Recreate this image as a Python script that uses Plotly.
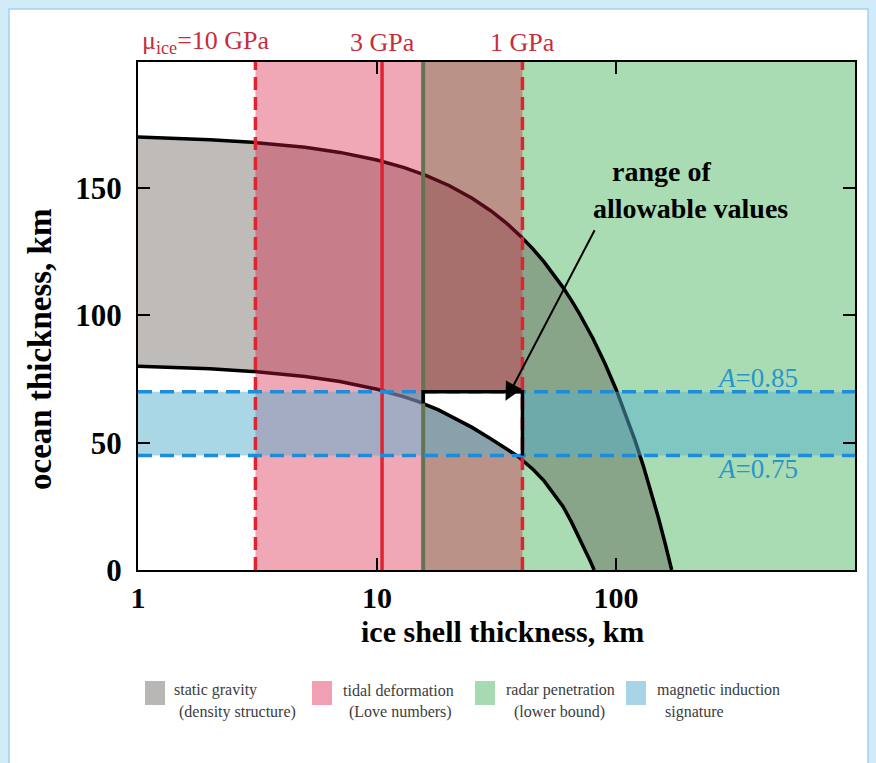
import numpy as np
import plotly.graph_objects as go

# ---- data -------------------------------------------------------------
# static gravity (density structure): upper and lower bounding curves
upper_ice = [1, 1.5, 2, 3, 4, 5, 7, 10, 13, 16, 20, 25, 30, 35, 40, 45, 50,
             55, 60, 65, 70, 80, 90, 100, 110, 120, 130, 140, 150, 160, 165,
             171]
upper_ocean = [170, 169.5, 169, 168, 167, 166, 164, 161, 158, 155, 151, 146,
               141, 136, 131, 126, 121, 116, 111, 106, 101, 91, 81, 71, 61,
               51, 41, 31, 21, 11, 6, 0]
lower_ice = [1, 1.5, 2, 3, 4, 5, 7, 10, 13, 15, 18, 20, 25, 30, 35, 38.4, 40,
             45, 50, 55, 60, 65, 70, 75, 78, 81]
lower_ocean = [80, 79.5, 79, 78, 77, 76, 74, 71, 68, 66, 63, 61, 56, 51.5,
               47.5, 45, 43.5, 39.5, 35, 30, 25, 19, 13, 7, 3.5, 0]

# tidal deformation: ice thickness limits for rigidity mu_ice
mu_labels = ["10 GPa", "3 GPa", "1 GPa"]
mu_ice_thickness = [3.1, 10.5, 40.6]

# radar penetration lower bound on ice thickness
radar_min_ice = 15.6

# magnetic induction amplitude bounds on ocean thickness
induction_A = [0.75, 0.85]
induction_ocean = [45, 70]

x_ticks = [1, 10, 100]
y_ticks = [0, 50, 100, 150]
x_max = 1000
y_max = 199.5

legend_items = [
    ("static gravity", "(density structure)"),
    ("tidal deformation", "(Love numbers)"),
    ("radar penetration", "(lower bound)"),
    ("magnetic induction", "signature"),
]

# ---- styling ----------------------------------------------------------
W, H = 876, 763
L, R, T, B = 138, 21, 62, 193
SERIF = "Liberation Serif"

GRAY = "rgba(84,76,68,0.38)"
GREEN = "rgb(170,220,180)"
PINK = "rgba(216,26,63,0.38)"
BLUE = "rgba(85,175,205,0.50)"
RED = "rgb(222,35,50)"
BLUE_LINE = "rgb(30,140,215)"
OLIVE = "rgb(100,115,80)"
LEGEND_SWATCH = ["rgb(185,183,181)", "rgb(240,160,178)",
                 "rgb(165,218,178)", "rgb(168,212,232)"]


def px(x):
    return (x - L) / (W - L - R)


def py(y):
    return (H - B - y) / (H - T - B)


fig = go.Figure()


def band(x0, x1, y0, y1, color):
    fig.add_trace(go.Scatter(x=[x0, x1, x1, x0, x0], y=[y0, y0, y1, y1, y0],
                             mode="lines", fill="toself", fillcolor=color,
                             line=dict(width=0), hoverinfo="skip",
                             showlegend=False))


# radar penetration
band(radar_min_ice, x_max, 0, y_max, GREEN)

# static gravity region between the two curves
gx = upper_ice + lower_ice[::-1] + [upper_ice[0]]
gy = upper_ocean + lower_ocean[::-1] + [upper_ocean[0]]
fig.add_trace(go.Scatter(x=gx, y=gy, mode="lines", fill="toself",
                         fillcolor=GRAY, line=dict(width=0),
                         hoverinfo="skip", showlegend=False))

# bounding curves of the gravity region
for xs, ys in [(upper_ice, upper_ocean), (lower_ice, lower_ocean)]:
    fig.add_trace(go.Scatter(x=xs, y=ys, mode="lines",
                             line=dict(color="black", width=3.5),
                             hoverinfo="skip", showlegend=False))

# tidal deformation
band(mu_ice_thickness[0], mu_ice_thickness[-1], 0, y_max, PINK)

# magnetic induction
band(1, x_max, induction_ocean[0], induction_ocean[1], BLUE)

# allowable region: box clipped by the lower gravity curve
ice_lo, ice_hi = radar_min_ice, mu_ice_thickness[-1]
oc_lo, oc_hi = induction_ocean
lx = np.log10(lower_ice)
ly = np.array(lower_ocean, dtype=float)
left_ocean = float(np.interp(np.log10(ice_lo), lx, ly))
cross_ice = 10 ** float(np.interp(-oc_lo, -ly, lx))
inner = [(i, o) for i, o in zip(lower_ice, lower_ocean)
         if ice_lo < i < cross_ice]
ax_ = [ice_lo, ice_hi, ice_hi, cross_ice] + [p[0] for p in inner[::-1]] + [ice_lo, ice_lo]
ay_ = [oc_hi, oc_hi, oc_lo, oc_lo] + [p[1] for p in inner[::-1]] + [left_ocean, oc_hi]
fig.add_trace(go.Scatter(x=ax_, y=ay_, mode="lines", fill="toself",
                         fillcolor="white", line=dict(width=0),
                         hoverinfo="skip", showlegend=False))
fig.add_trace(go.Scatter(x=ax_[3:-1], y=ay_[3:-1], mode="lines",
                         line=dict(color="black", width=3.5),
                         hoverinfo="skip", showlegend=False))

# radar bound line
fig.add_trace(go.Scatter(x=[radar_min_ice, radar_min_ice], y=[0, y_max],
                         mode="lines", line=dict(color=OLIVE, width=4),
                         hoverinfo="skip", showlegend=False))

# rigidity lines
for val, dash in zip(mu_ice_thickness, ["13px,7px", "solid", "13px,7px"]):
    fig.add_trace(go.Scatter(x=[val, val], y=[0, y_max], mode="lines",
                             line=dict(color=RED, width=3.5, dash=dash),
                             hoverinfo="skip", showlegend=False))

# induction bounds
for val in induction_ocean:
    fig.add_trace(go.Scatter(x=[1, x_max], y=[val, val], mode="lines",
                             line=dict(color=BLUE_LINE, width=3.5,
                                       dash="14px,8px"),
                             hoverinfo="skip", showlegend=False))

# box outline (top and right edges)
fig.add_trace(go.Scatter(x=[ice_lo, ice_lo, ice_hi, ice_hi],
                         y=[left_ocean, oc_hi, oc_hi, oc_lo], mode="lines",
                         line=dict(color="black", width=3.5),
                         hoverinfo="skip", showlegend=False))

ann = []

# rigidity labels
ann.append(dict(x=px(140), y=py(42), xref="paper", yref="paper",
                xanchor="left", yanchor="middle", showarrow=False,
                text="\u03bc<sub>ice</sub>=" + mu_labels[0],
                font=dict(family=SERIF, size=26, color="rgb(200,45,60)")))
for lab, val in zip(mu_labels[1:], mu_ice_thickness[1:]):
    ann.append(dict(x=np.log10(val), y=py(42), xref="x", yref="paper",
                    xanchor="center", yanchor="middle", showarrow=False,
                    text=lab,
                    font=dict(family=SERIF, size=26, color="rgb(200,45,60)")))

# induction labels
for a, val, off in zip(induction_A, induction_ocean, [-14, 14]):
    ann.append(dict(x=px(757), y=val, xref="paper", yref="y",
                    yshift=off, xanchor="center", yanchor="middle",
                    showarrow=False, text=f"<i>A</i>={a}",
                    font=dict(family=SERIF, size=27, color="rgb(40,150,205)")))

# arrow to the allowable region
ann.append(dict(x=np.log10(34.5), y=66.5, xref="x", yref="y",
                ax=np.log10(82), ay=134, axref="x", ayref="y",
                showarrow=True, arrowhead=2, arrowsize=1.8, arrowwidth=2,
                arrowcolor="black", text=""))
ann.append(dict(x=px(661), y=py(172), xref="paper", yref="paper",
                xanchor="center", yanchor="middle", showarrow=False,
                text="<b>range of</b>",
                font=dict(family=SERIF, size=28, color="black")))
ann.append(dict(x=px(690), y=py(208), xref="paper", yref="paper",
                xanchor="center", yanchor="middle", showarrow=False,
                text="<b>allowable values</b>",
                font=dict(family=SERIF, size=28, color="black")))

# axis titles
ann.append(dict(x=px(502), y=py(631), xref="paper", yref="paper",
                xanchor="center", yanchor="middle", showarrow=False,
                text="<b>ice shell thickness, km</b>",
                font=dict(family=SERIF, size=30, color="black")))
ann.append(dict(x=px(40), y=py(350), xref="paper", yref="paper",
                xanchor="center", yanchor="middle", showarrow=False,
                textangle=-90, text="<b>ocean thickness, km</b>",
                font=dict(family=SERIF, size=33, color="black")))

# legend
shapes = []
sw_x = [145, 312, 475, 626]
text_x = [172, 341, 504, 655]
text2_x = [177, 347, 512, 663]
for i, (l1, l2) in enumerate(legend_items):
    shapes.append(dict(type="rect", xref="paper", yref="paper",
                       x0=px(sw_x[i]), x1=px(sw_x[i] + 20),
                       y0=py(681), y1=py(705), line=dict(width=0),
                       fillcolor=LEGEND_SWATCH[i], layer="above"))
    ann.append(dict(x=px(text_x[i]), y=py(690), xref="paper", yref="paper",
                    xanchor="left", yanchor="middle", showarrow=False,
                    text=l1, font=dict(family=SERIF, size=16,
                                       color="rgb(60,60,60)")))
    ann.append(dict(x=px(text2_x[i]), y=py(712), xref="paper", yref="paper",
                    xanchor="left", yanchor="middle", showarrow=False,
                    text=l2, font=dict(family=SERIF, size=16,
                                       color="rgb(60,60,60)")))

# page frame
shapes.append(dict(type="rect", xref="paper", yref="paper",
                   x0=px(9), x1=px(868), y0=py(790), y1=py(9),
                   line=dict(color="rgb(165,208,236)", width=1.5),
                   fillcolor="white", layer="below"))

axis_common = dict(showgrid=False, zeroline=False, showline=True,
                   linecolor="black", linewidth=2, mirror="ticks",
                   ticks="inside", ticklen=12, tickwidth=2,
                   tickcolor="black")

fig.update_layout(
    width=W, height=H,
    margin=dict(l=L, r=R, t=T, b=B, autoexpand=False),
    paper_bgcolor="rgb(210,235,248)",
    plot_bgcolor="white",
    showlegend=False,
    xaxis=dict(type="log", range=[0, np.log10(x_max)], tickvals=x_ticks,
               ticktext=[str(v) for v in x_ticks], ticklabelstandoff=0,
               tickfont=dict(family=SERIF, size=30, color="black",
                             weight="bold"),
               **axis_common),
    yaxis=dict(range=[0, y_max], tickvals=y_ticks, ticklabelstandoff=8,
               tickfont=dict(family=SERIF, size=31, color="black",
                             weight="bold"),
               **axis_common),
    annotations=ann,
    shapes=shapes,
)

fig.write_html("out.html")
